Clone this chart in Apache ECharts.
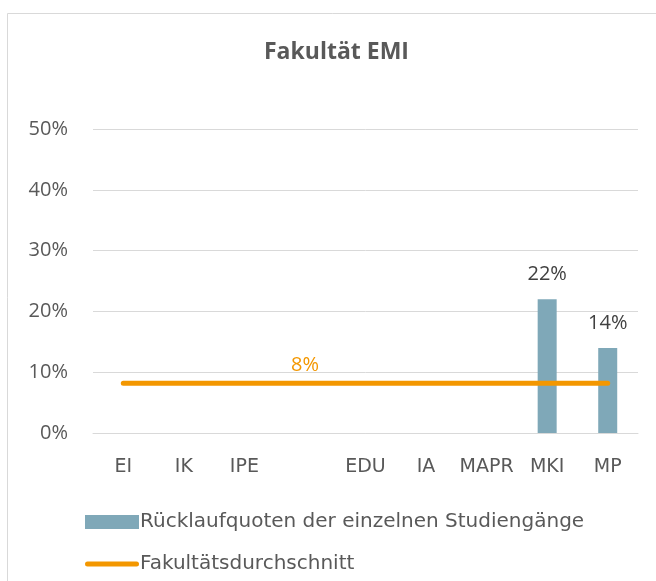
<!DOCTYPE html>
<html>
<head>
<meta charset="utf-8">
<script src="https://cdn.jsdelivr.net/npm/echarts@6/dist/echarts.min.js"></script>
<style>
  html, body { margin: 0; padding: 0; background: #fff; }
  #chart { width: 656px; height: 581px; }
</style>
</head>
<body>
<div id="chart"></div>
<script>
// Studiengänge (index 3 is an empty slot in the original)
const categories = ["EI", "IK", "IPE", "", "EDU", "IA", "MAPR", "MKI", "MP"];
const quoten = [null, null, null, null, null, null, null, 22, 14];
const durchschnitt = [8.2, 8.2, 8.2, 8.2, 8.2, 8.2, 8.2, 8.2, 8.2];
const yTicks = [0, 10, 20, 30, 40, 50];
const avgLabelIndex = 3;

const fontFamily = "'Open Sans', 'Noto Sans', sans-serif";
const wideFont = "'DejaVu Sans', sans-serif";
const textColor = "#595959";
const orange = "#f39700";

const chart = echarts.init(document.getElementById("chart"), null, { renderer: "canvas" });

const option = {
    backgroundColor: "#fff",
    animation: false,
    textStyle: { fontFamily: fontFamily },
    graphic: [
        {
            type: "rect",
            left: 5,
            top: 11,
            shape: { width: 680, height: 600 },
            style: { fill: "none", stroke: "#d9d9d9", lineWidth: 1 },
            silent: true,
        },
    ],
    title: {
        text: "Fakultät EMI",
        left: 259,
        top: 36,
        textStyle: {
            color: textColor,
            fontSize: 23,
            fontWeight: "bold",
            fontFamily: "'Open Sans', sans-serif",
        },
    },
    legend: {
        orient: "vertical",
        left: 80,
        top: 507,
        itemGap: 22,
        itemWidth: 54,
        itemHeight: 14,
        textStyle: { color: textColor, fontSize: 20, fontFamily: wideFont, padding: [0, 0, 0, -4] },
        data: [
            { name: "Rücklaufquoten der einzelnen Studiengänge", icon: "rect" },
            {
                name: "Fakultätsdurchschnitt",
                icon: "path://M2.5,0 L51.5,0 A2.5,2.5 0 0 1 51.5,5 L2.5,5 A2.5,2.5 0 0 1 2.5,0 Z",
                itemStyle: { color: orange },
            },
        ],
    },
    grid: {
        left: 93,
        right: 18,
        top: 129,
        bottom: 148,
    },
    xAxis: {
        type: "category",
        data: categories,
        axisLine: { show: true, lineStyle: { color: "#d9d9d9", width: 1 } },
        axisTick: { show: false },
        axisLabel: { color: textColor, fontSize: 19, fontFamily: wideFont, margin: 25, interval: 0 },
    },
    yAxis: {
        type: "value",
        min: 0,
        max: 50,
        interval: 10,
        axisLine: { show: false },
        axisTick: { show: false },
        axisLabel: {
            color: textColor,
            fontSize: 20,
            margin: 25,
            formatter: (v) => (yTicks.includes(v) ? v + "%" : ""),
        },
        splitLine: { lineStyle: { color: "#d9d9d9", width: 1 } },
    },
    series: [
        {
            name: "Rücklaufquoten der einzelnen Studiengänge",
            type: "bar",
            data: quoten,
            barWidth: 19,
            itemStyle: { color: "#7fa8b8" },
            label: {
                show: true,
                position: "top",
                distance: 15,
                color: "#404040",
                fontSize: 20,
                formatter: (p) => Math.round(p.value) + "%",
            },
            z: 2,
        },
        {
            name: "Fakultätsdurchschnitt",
            type: "line",
            data: durchschnitt,
            symbol: "none",
            lineStyle: { color: orange, width: 5, cap: "round" },
            itemStyle: { color: orange },
            markPoint: {
                symbol: "circle",
                symbolSize: 0,
                silent: true,
                label: {
                    show: true,
                    position: "top",
                    distance: 8,
                    color: orange,
                    fontSize: 20,
                    formatter: (p) => Math.round(p.value) + "%",
                },
                data: [
                    {
                        coord: [categories[avgLabelIndex], durchschnitt[avgLabelIndex]],
                        value: durchschnitt[avgLabelIndex],
                    },
                ],
            },
            z: 3,
        },
    ],
};

chart.setOption(option);
</script>
</body>
</html>
